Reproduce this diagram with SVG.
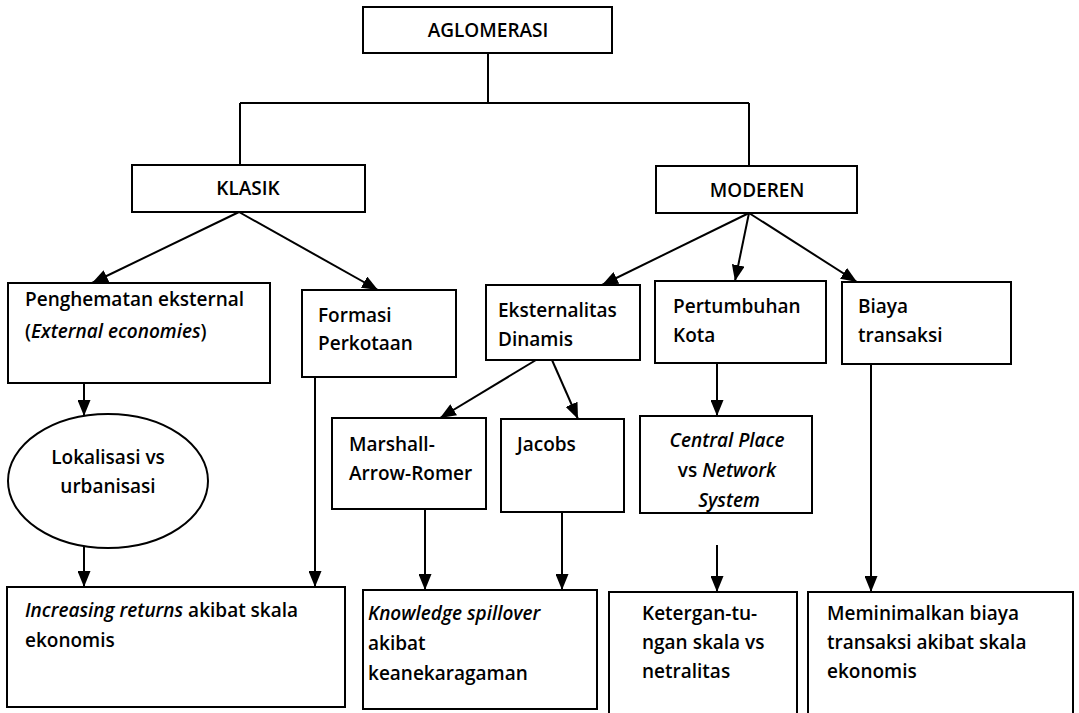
<svg xmlns="http://www.w3.org/2000/svg" width="1079" height="713" viewBox="0 0 1079 713">
<style>
.box{fill:#fff;stroke:#000;stroke-width:2}
.t{font-family:"Open Sans","Liberation Sans",sans-serif;font-size:19px;font-weight:600;fill:#000}
.c{text-anchor:middle}
.i{font-style:italic}
.ln{fill:none;stroke:#000;stroke-width:2}
</style>
<defs>
<marker id="ah" markerUnits="userSpaceOnUse" markerWidth="16" markerHeight="13" refX="16" refY="6.5" orient="auto">
<path d="M0,0 L16,6.5 L0,13 z" fill="#000"/>
</marker>
</defs>
<rect width="1079" height="713" fill="#fff"/>
<g id="connectors">
<path class="ln" d="M488,53 V103 M240,103 H749 M240,103 V165 M749,103 V166"/>
<line class="ln" x1="239" y1="212" x2="92" y2="283" marker-end="url(#ah)"/>
<line class="ln" x1="239" y1="212" x2="378" y2="290" marker-end="url(#ah)"/>
<line class="ln" x1="749" y1="213" x2="602" y2="285" marker-end="url(#ah)"/>
<line class="ln" x1="749" y1="213" x2="735" y2="281" marker-end="url(#ah)"/>
<line class="ln" x1="749" y1="213" x2="857" y2="282" marker-end="url(#ah)"/>
<line class="ln" x1="84" y1="383" x2="84" y2="416" marker-end="url(#ah)"/>
<line class="ln" x1="84" y1="546" x2="84" y2="587" marker-end="url(#ah)"/>
<line class="ln" x1="315" y1="377" x2="315" y2="587" marker-end="url(#ah)"/>
<line class="ln" x1="536" y1="360" x2="440" y2="418" marker-end="url(#ah)"/>
<line class="ln" x1="552" y1="360" x2="578" y2="419" marker-end="url(#ah)"/>
<line class="ln" x1="717" y1="363" x2="717" y2="416" marker-end="url(#ah)"/>
<line class="ln" x1="425" y1="509" x2="425" y2="590" marker-end="url(#ah)"/>
<line class="ln" x1="562" y1="512" x2="562" y2="590" marker-end="url(#ah)"/>
<line class="ln" x1="717" y1="545" x2="717" y2="592" marker-end="url(#ah)"/>
<line class="ln" x1="871" y1="364" x2="871" y2="592" marker-end="url(#ah)"/>
</g>
<g id="aglomerasi"><rect class="box" x="363" y="7" width="249" height="46"/><text class="t c" x="488" y="37">AGLOMERASI</text></g>
<g id="klasik"><rect class="box" x="132" y="165" width="233" height="47"/><text class="t c" x="248" y="195">KLASIK</text></g>
<g id="moderen"><rect class="box" x="656" y="166" width="201" height="47"/><text class="t c" x="757" y="197">MODEREN</text></g>
<g id="penghematan"><rect class="box" x="8" y="283" width="262" height="100"/><text class="t" x="25" y="306">Penghematan eksternal</text><text class="t" x="25" y="338">(<tspan class="i">External economies</tspan>)</text></g>
<g id="formasi"><rect class="box" x="302" y="290" width="154" height="87"/><text class="t" x="318" y="322">Formasi</text><text class="t" x="318" y="350">Perkotaan</text></g>
<g id="eksternalitas"><rect class="box" x="486" y="285" width="154" height="75"/><text class="t" x="498" y="317">Eksternalitas</text><text class="t" x="498" y="346">Dinamis</text></g>
<g id="pertumbuhan"><rect class="box" x="655" y="281" width="171" height="82"/><text class="t" x="673" y="313">Pertumbuhan</text><text class="t" x="673" y="342">Kota</text></g>
<g id="biaya"><rect class="box" x="842" y="282" width="169" height="82"/><text class="t" x="858" y="313">Biaya</text><text class="t" x="858" y="342">transaksi</text></g>
<g id="lokalisasi"><ellipse class="box" cx="108" cy="481" rx="100" ry="67"/><text class="t c" x="108" y="464">Lokalisasi vs</text><text class="t c" x="108" y="493">urbanisasi</text></g>
<g id="marshall"><rect class="box" x="332" y="418" width="154" height="91"/><text class="t" x="349" y="451">Marshall-</text><text class="t" x="349" y="480">Arrow-Romer</text></g>
<g id="jacobs"><rect class="box" x="501" y="419" width="123" height="93"/><text class="t" x="517" y="451">Jacobs</text></g>
<g id="centralplace"><rect class="box" x="640" y="416" width="172" height="97"/><text class="t c i" x="727" y="447">Central Place</text><text class="t c" x="727" y="477">vs <tspan class="i">Network</tspan></text><text class="t c i" x="729" y="507">System</text></g>
<g id="increasing"><rect class="box" x="7" y="587" width="338" height="120"/><text class="t" x="25" y="617"><tspan class="i">Increasing returns</tspan> akibat skala</text><text class="t" x="25" y="647">ekonomis</text></g>
<g id="knowledge"><rect class="box" x="363" y="590" width="234" height="119"/><text class="t" x="368" y="620"><tspan class="i">Knowledge spillover</tspan></text><text class="t" x="368" y="650">akibat</text><text class="t" x="368" y="680">keanekaragaman</text></g>
<g id="ketergantungan"><rect class="box" x="609" y="592" width="188" height="130"/><text class="t" x="642" y="620">Ketergan-tu-</text><text class="t" x="642" y="649">ngan skala vs</text><text class="t" x="642" y="678">netralitas</text></g>
<g id="meminimalkan"><rect class="box" x="808" y="592" width="265" height="130"/><text class="t" x="827" y="620">Meminimalkan biaya</text><text class="t" x="827" y="649">transaksi akibat skala</text><text class="t" x="827" y="678">ekonomis</text></g>
</svg>
